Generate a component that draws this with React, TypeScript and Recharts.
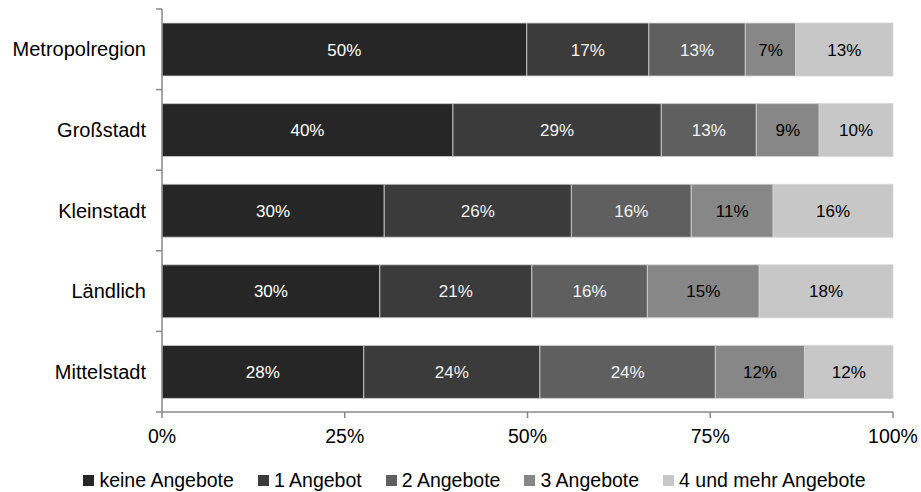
import React from 'react';
import { BarChart, Bar, XAxis, YAxis, Legend, LabelList } from 'recharts';

const categories = ['Metropolregion', 'Großstadt', 'Kleinstadt', 'Ländlich', 'Mittelstadt'];
const keineAngebote = [49.9, 39.8, 30.4, 29.8, 27.6];
const einAngebot = [16.7, 28.5, 25.6, 20.8, 24.1];
const zweiAngebote = [13.2, 13.0, 16.4, 15.8, 24.0];
const dreiAngebote = [6.9, 8.6, 11.2, 15.3, 12.2];
const vierUndMehr = [13.3, 10.1, 16.4, 18.3, 12.1];
const xTicks = [0, 25, 50, 75, 100];

const seriesNames = ['keine Angebote', '1 Angebot', '2 Angebote', '3 Angebote', '4 und mehr Angebote'];
const seriesKeys = ['k0', 'k1', 'k2', 'k3', 'k4'];
const seriesValues = [keineAngebote, einAngebot, zweiAngebote, dreiAngebote, vierUndMehr];
const seriesColors = ['#262626', '#3b3b3b', '#5f5f5f', '#878787', '#c7c7c7'];
const labelColors = ['#ffffff', '#f2f2f2', '#f2f2f2', '#000000', '#000000'];

const data = categories.map((name, i) => {
  const row: Record<string, any> = { name };
  seriesKeys.forEach((k, s) => {
    row[k] = seriesValues[s][i];
  });
  return row;
});

const W = 921;
const H = 492;
const MARGIN = { top: 9, right: 28, left: 0, bottom: 0 };
const Y_WIDTH = 162;
const LEGEND_H = 22;
const X_HEIGHT = 58;
const PLOT_TOP = MARGIN.top;
const PLOT_BOTTOM = H - MARGIN.bottom - LEGEND_H - X_HEIGHT;
const BAND = (PLOT_BOTTOM - PLOT_TOP) / categories.length;
const AXIS_X = MARGIN.left + Y_WIDTH;
const AXIS_COLOR = '#888888';
const FONT = '"Liberation Sans", Arial, sans-serif';

const YTick = (props: any) => {
  const { x, y, payload, index } = props;
  const half = BAND / 2;
  return (
    <g>
      <text x={x} y={y} textAnchor="end" dominantBaseline="central" fontSize={20} fill="#000" fontFamily={FONT}>
        {payload.value}
      </text>
      <line x1={AXIS_X - 6} x2={AXIS_X} y1={y - half} y2={y - half} stroke={AXIS_COLOR} strokeWidth={1.5} />
      {index === categories.length - 1 && (
        <line x1={AXIS_X - 6} x2={AXIS_X} y1={y + half} y2={y + half} stroke={AXIS_COLOR} strokeWidth={1.5} />
      )}
    </g>
  );
};

const LegendContent = () => (
  <div
    style={{
      display: 'flex',
      justifyContent: 'center',
      alignItems: 'center',
      paddingLeft: 28,
      fontFamily: FONT,
      fontSize: 19.5,
      color: '#000',
      whiteSpace: 'nowrap',
      lineHeight: `${LEGEND_H}px`,
      height: LEGEND_H,
    }}
  >
    {seriesNames.map((n, i) => (
      <div key={n} style={{ display: 'flex', alignItems: 'center', marginRight: i < seriesNames.length - 1 ? 24 : 0 }}>
        <span style={{ display: 'inline-block', width: 11, height: 11, background: seriesColors[i], marginRight: 5 }} />
        <span>{n}</span>
      </div>
    ))}
  </div>
);

const fmt = (v: any) => `${Math.round(Number(v))}%`;

export default function App() {
  return (
    <div style={{ position: 'fixed', top: 0, left: 0, width: W, height: H, background: '#fff', fontFamily: FONT, overflow: 'hidden' }}>
      <BarChart width={W} height={H} data={data} layout="vertical" margin={MARGIN} barSize={53}>
        <XAxis
          type="number"
          domain={[0, 100]}
          ticks={xTicks}
          tickFormatter={(v: number) => `${v}%`}
          height={X_HEIGHT}
          axisLine={{ stroke: AXIS_COLOR, strokeWidth: 1.5 }}
          tickLine={{ stroke: AXIS_COLOR, strokeWidth: 1.5 }}
          tickSize={6}
          tickMargin={11}
          tick={{ fontSize: 19.5, fill: '#000', fontFamily: FONT }}
          interval={0}
        />
        <YAxis
          type="category"
          dataKey="name"
          width={Y_WIDTH}
          axisLine={{ stroke: AXIS_COLOR, strokeWidth: 1.5 }}
          tickLine={false}
          tickSize={6}
          tickMargin={10}
          tick={YTick}
          interval={0}
        />
        <Legend
          verticalAlign="bottom"
          content={LegendContent}
          wrapperStyle={{ height: LEGEND_H, left: 0, width: W, top: 469, bottom: 'auto' }}
        />
        {seriesKeys.map((k, s) => (
          <Bar
            key={k}
            dataKey={k}
            name={seriesNames[s]}
            stackId="a"
            fill={seriesColors[s]}
            stroke="#d4d4d4"
            strokeWidth={0.8}
            isAnimationActive={false}
          >
            <LabelList
              dataKey={k}
              position="center"
              fill={labelColors[s]}
              fontSize={17}
              fontFamily={FONT}
              formatter={fmt}
            />
          </Bar>
        ))}
      </BarChart>
    </div>
  );
}
